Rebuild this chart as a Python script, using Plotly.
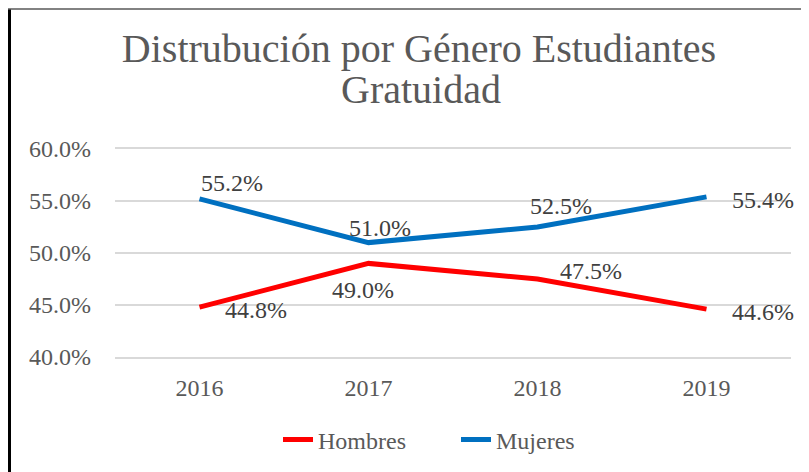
import plotly.graph_objects as go

years = ["2016", "2017", "2018", "2019"]
hombres = [0.448, 0.490, 0.475, 0.446]
mujeres = [0.552, 0.510, 0.525, 0.554]
y_ticks = [0.40, 0.45, 0.50, 0.55, 0.60]
y_tick_labels = ["40.0%", "45.0%", "50.0%", "55.0%", "60.0%"]

# label offsets (px) for data labels, style only
hombres_shift = [(56, -3), (-6, -27), (53, 8), (56, -3)]
mujeres_shift = [(32, 16), (11, 15), (23, 21), (56, -3)]

FONT = "Liberation Serif"
RED = "#FF0000"
BLUE = "#0070C0"

# page has an 8px body margin; figure is sized so the visible page is 809x472
OFF = 8
W, H = 809 - OFF, 472 - OFF
L, R, T, B = 115 - OFF, 809 - 791, 149 - OFF, 472 - 357
pw, ph = W - L - R, H - T - B

def px(xpage):
    return (xpage - OFF - L) / pw

def py(ypage):
    return (H - B - (ypage - OFF)) / ph

fig = go.Figure()
fig.add_trace(go.Scatter(x=years, y=hombres, mode="lines", name="Hombres",
                         line=dict(color=RED, width=5)))
fig.add_trace(go.Scatter(x=years, y=mujeres, mode="lines", name="Mujeres",
                         line=dict(color=BLUE, width=5)))

annotations = []
for series, shifts in ((hombres, hombres_shift), (mujeres, mujeres_shift)):
    for i, (yv, (dx, dy)) in enumerate(zip(series, shifts)):
        annotations.append(dict(x=i, y=yv, xref="x", yref="y",
                                text=f"{yv*100:.1f}%", showarrow=False,
                                xshift=dx, yshift=dy,
                                xanchor="center", yanchor="middle",
                                font=dict(family=FONT, size=24, color="#404040")))

annotations.append(dict(x=px(421), y=py(90), xref="paper", yref="paper",
                        text="Gratuidad", showarrow=False,
                        xanchor="center", yanchor="middle",
                        font=dict(family=FONT, size=40, color="#595959")))

shapes = [
    dict(type="line", xref="paper", yref="paper", x0=px(9.5), x1=px(9.5),
         y0=py(9), y1=py(490), line=dict(color="black", width=3)),
    dict(type="line", xref="paper", yref="paper", x0=px(8), x1=px(830),
         y0=py(9), y1=py(9), line=dict(color="#595959", width=1.3)),
]

fig.update_layout(
    template="none",
    width=W, height=H,
    margin=dict(l=L, r=R, t=T, b=B, pad=0, autoexpand=False),
    paper_bgcolor="white", plot_bgcolor="white",
    title=dict(text="Distrubución por Género Estudiantes",
               x=(419 - OFF) / W, xref="container", xanchor="center",
               y=1 - (48 - OFF) / H, yref="container", yanchor="middle",
               font=dict(family=FONT, size=40, color="#595959")),
    xaxis=dict(type="category", range=[-0.5, 3.5], showgrid=False,
               showline=True, mirror=True, linecolor="#D9D9D9", linewidth=1.5,
               zeroline=False, ticks="", automargin=False,
               tickfont=dict(family=FONT, size=24, color="#595959"),
               ticklabelstandoff=8),
    yaxis=dict(range=[0.4, 0.6], tickvals=y_ticks, ticktext=y_tick_labels,
               showgrid=True, gridcolor="#D9D9D9", gridwidth=1.5,
               zeroline=False, showline=False, ticks="", automargin=False,
               tickfont=dict(family=FONT, size=24, color="#595959"),
               ticklabelstandoff=23),
    showlegend=True,
    legend=dict(orientation="h", x=px(278), y=py(440), xanchor="left",
                yanchor="middle", font=dict(family=FONT, size=24, color="#595959"),
                entrywidth=133, entrywidthmode="pixels",
                bgcolor="rgba(0,0,0,0)"),
    annotations=annotations,
    shapes=shapes,
)

fig.write_html("out.html")
